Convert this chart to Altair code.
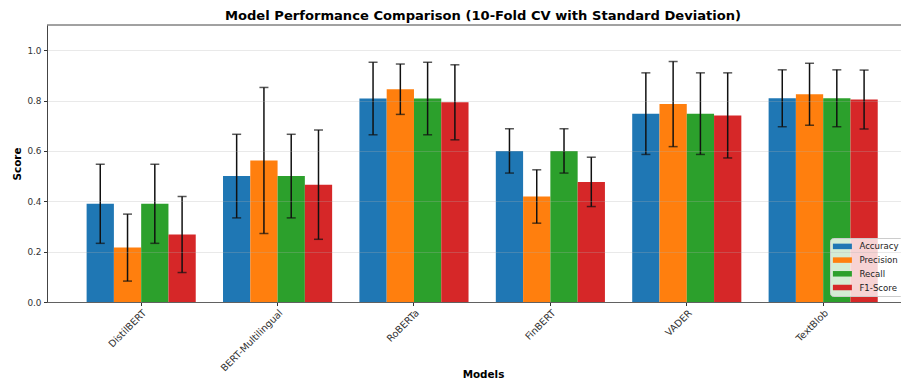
import altair as alt
import pandas as pd

models = ["DistilBERT", "BERT-Multilingual", "RoBERTa", "FinBERT", "VADER", "TextBlob"]
metrics = ["Accuracy", "Precision", "Recall", "F1-Score"]
colors = ["#1f77b4", "#ff7f0e", "#2ca02c", "#d62728"]

accuracy = [0.390, 0.500, 0.808, 0.600, 0.748, 0.809]
accuracy_std = [0.157, 0.166, 0.144, 0.088, 0.162, 0.113]
precision = [0.216, 0.562, 0.845, 0.419, 0.786, 0.825]
precision_std = [0.133, 0.290, 0.100, 0.106, 0.169, 0.123]
recall = [0.390, 0.500, 0.808, 0.600, 0.748, 0.809]
recall_std = [0.157, 0.166, 0.144, 0.088, 0.162, 0.113]
f1 = [0.268, 0.466, 0.793, 0.477, 0.741, 0.804]
f1_std = [0.151, 0.217, 0.149, 0.098, 0.169, 0.117]

y_ticks = [0.0, 0.2, 0.4, 0.6, 0.8, 1.0]
y_max = 1.1

rows = []
for metric, vals, stds in zip(metrics, [accuracy, precision, recall, f1],
                              [accuracy_std, precision_std, recall_std, f1_std]):
    for m, v, s in zip(models, vals, stds):
        rows.append({"Model": m, "Metric": metric, "Score": v, "lo": v - s, "hi": v + s})
df = pd.DataFrame(rows)
frame_df = pd.DataFrame({"top": [y_max]})

FONT = "DejaVu Sans"
SPINE = "#444"

x_enc = alt.X("Model:N", sort=models,
              scale=alt.Scale(paddingInner=0.2, paddingOuter=0.2305, align=0.63),
              axis=alt.Axis(title="Models", labelAngle=-45, labelAlign="right",
                            labelBaseline="top", labelFontSize=9.6, labelColor="#333",
                            labelFont=FONT, labelPadding=2, tickSize=3.5, tickColor="#333",
                            domain=True, domainColor=SPINE, domainWidth=1, grid=False,
                            titleFont=FONT, titleFontSize=10.4, titleFontWeight="bold",
                            titleColor="#000", titleY=72, titleX=436, titleAlign="center",
                            titleBaseline="middle"))
xo = alt.XOffset("Metric:N", sort=metrics)
y_scale = alt.Scale(domain=[0, y_max], nice=False)
y_axis = alt.Axis(title="Score", values=y_ticks, format=".1f", labelFontSize=8.9,
                  labelColor="#333", labelFont=FONT, labelPadding=2.5, tickSize=3.5,
                  tickColor="#333", domain=True, domainColor=SPINE, domainWidth=1,
                  grid=True, gridColor="#b0b0b0",
                  gridOpacity=0.35, gridWidth=0.8, zindex=1, titleFont=FONT,
                  titleFontSize=10.4, titleFontWeight="bold", titleColor="#000",
                  titleX=-30, titleBaseline="middle")

base = alt.Chart(df).encode(x=x_enc, xOffset=xo)

bars = base.mark_bar().encode(
    y=alt.Y("Score:Q", scale=y_scale, axis=y_axis),
    color=alt.Color("Metric:N", sort=metrics,
                    scale=alt.Scale(domain=metrics, range=colors),
                    legend=alt.Legend(title=None, orient="none", legendX=783, legendY=213,
                                      fillColor="rgba(255,255,255,0.8)", strokeColor="#cccccc",
                                      cornerRadius=3, padding=3.4, labelFont=FONT,
                                      labelFontSize=8.6, labelColor="#222",
                                      symbolType="M-1.9,-0.55L1.9,-0.55L1.9,0.55L-1.9,0.55Z",
                                      symbolSize=100, symbolStrokeWidth=0, symbolOpacity=1,
                                      rowPadding=3.7, labelOffset=12, symbolOffset=4)),
)

rules = base.mark_rule(color="#111", strokeWidth=1.5).encode(
    y=alt.Y("lo:Q", scale=y_scale, title="Score"), y2="hi:Q")
cap_lo = base.mark_tick(color="#111", thickness=1.5, size=9, orient="horizontal").encode(
    y=alt.Y("lo:Q", scale=y_scale, title="Score"))
cap_hi = base.mark_tick(color="#111", thickness=1.5, size=9, orient="horizontal").encode(
    y=alt.Y("hi:Q", scale=y_scale, title="Score"))

top_spine = alt.Chart(frame_df).mark_rule(color=SPINE, strokeWidth=1).encode(
    y=alt.Y("top:Q", scale=y_scale, title="Score"))

chart = alt.layer(bars, rules, cap_lo, cap_hi, top_spine).properties(
    width=854, height=277,
    autosize=alt.AutoSizeParams(type="none"),
    padding={"left": 39, "top": 17, "right": 0, "bottom": 78},
    title=alt.Title("Model Performance Comparison (10-Fold CV with Standard Deviation)",
                    font=FONT, fontSize=13.1, fontWeight="bold", color="#000",
                    anchor="middle", frame="group", offset=5, dx=9, dy=4),
).configure_view(stroke=None)

chart.save("out.html", embed_options={"renderer": "svg", "actions": False})
